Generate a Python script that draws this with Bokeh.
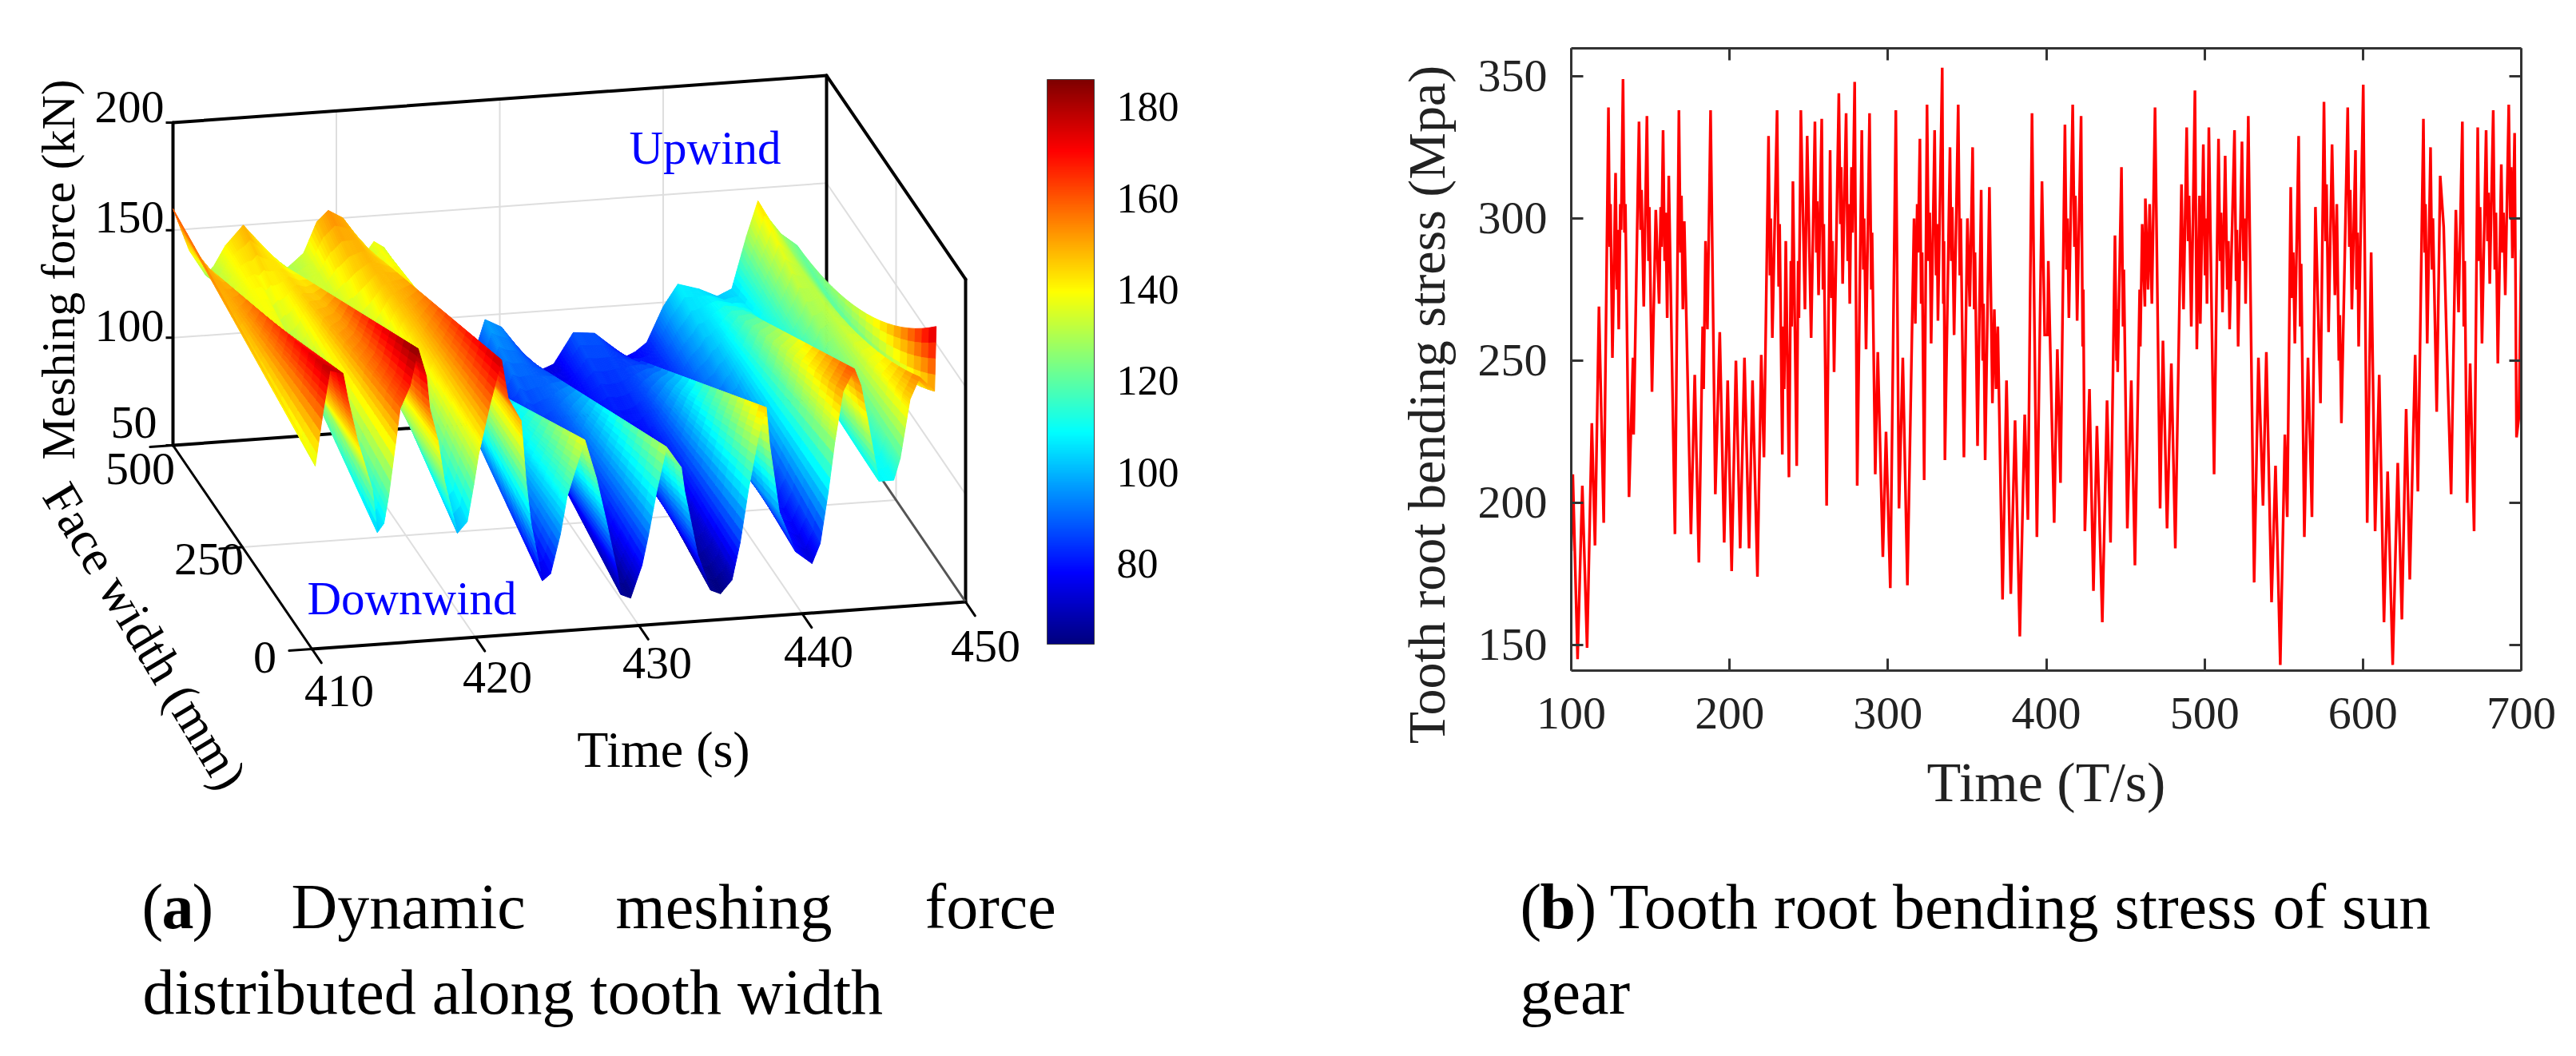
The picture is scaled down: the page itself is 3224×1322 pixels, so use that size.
import numpy as np
from bokeh.plotting import figure
from bokeh.layouts import row, column
from bokeh.core.properties import value
from bokeh.models import (Range1d, ColorBar, LinearColorMapper, FixedTicker, LinearAxis)
from bokeh.embed import file_html
from bokeh.resources import INLINE

SERIF = "Liberation Serif"

# ---------- (a) surface: force read along the front edge (width 0) and back edge (width 500)
front_time = [410,410.2,410.7,411.1,411.9,412.2,412.8,413.7,414,414.4,414.7,415.1,415.4,416,416.5,417,417.2,417.7,418.1,418.9,
              419.5,419.9,420.2,420.9,421.6,422,422.8,423.1,423.4,424.1,424.6,425.2,425.6,426.1,426.7,427.4,428,428.7,428.9,429.5,
              430.2,430.6,431.1,431.7,432.6,432.8,433.6,434.4,435,435.7,436.2,436.7,437.3,437.8,438,438.6,439.6,440.6,441.1,441.6,
              442,442.5,443.2,443.6,444,444.7,445.6,446,446.6,447.2,448.1,448.2]
front_force = [140,135,161,179,177,165,145,122,102,106,119,142,159,169,186,173,158,143,124,99,
               104,121,135,158,178,160,149,121,101,74,77,95,112,124,138,120,100,75,65,63,
               78,92,112,132,122,111,81,64,62,68,85,109,133,147,130,98,79,73,82,106,
               129,152,162,154,138,109,109,119,146,156,149,179]
back_time = [410,411,412,412.5,413.2,414.3,415.1,416.9,418,418.8,419.5,420.4,421.9,422.3,422.9,424.1,425.5,426.7,428.5,429.1,
             430.1,432.3,433.3,434.5,435.8,437.7,438.3,439,440,440.9,442.2,443.3,444.2,445.1,445.8,446.5,447.2,448.2]
back_force = [160,140,128,132,141,150,143,128,135,149,154,150,134,138,135,118,95,78,84,98,
              94,72,75,89,88,76,78,82,98,108,105,101,104,128,144,135,128,122]
# how far the force at mid width lies below the straight line between the two edges
mid_time = [410,444,446,447.2,448.2]
mid_dip = [0,0,4,10,13]

cbar_ticks = [80,100,120,140,160,180]
z_ticks = [50,100,150,200]
w_ticks = [0,250,500]
t_ticks = [410,420,430,440,450]

# ---------- (b) tooth root bending stress: main extremes
stress_time = [100,101,104,107,110,113,115,117.5,120.5,123.5,126,128,130,132.7,136.5,139,139.4,142.8,145.8,147.8,151,153.4,155.5,158,160.6,161.6,165.5,168,170.5,171.4,175.6,178,180.6,184.8,186,188,191,193.8,196.6,198.8,201.3,204,206.7,209.4,212.3,214.5,217.6,220,221.7,224.6,227,230,233.3,235.5,237.5,240,242.4,245,247.6,
249,251.5,253.9,256.2,258.2,261.3,263.5,266,269,271.4,273.6,275.9,279,280.6,283.5,286.2,288.4,292,293.6,296.8,298.8,301.5,305,307,309.4,312.3,316.5,317.3,320.2,322.9,324.7,327.3,329.5,331.6,334.3,336,339.2,341.8,344.4,348,350.2,351.7,353.5,356.6,358.9,361.4,364.1,366,367.2,368.3,369.4,372.4,374.9,377.6,380.3,383.3,386.4,388.4,391,394.1,397.3,399,
400.8,401.3,405,407,409,411.8,414.3,416.7,419.5,422,424.4,427.3,429.8,432,435.4,438.4,440.6,443.4,445.1,447.5,451.2,453.7,456,460.6,462.3,462.6,464.3,465.3,466.7,468.7,471.9,473.7,476.3,479,481.5,485.4,486.7,488.7,491.6,493.9,495.1,496.8,497.3,499.2,501.5,502.7,506,508.8,511.3,513,515.8,518.9,521.2,523.6,525.9,527.6,531.3,534,536.9,539,542.3,544.8,547.8,550.7,
552.2,554.4,557,559.4,563,565.3,567.8,570,573.2,575.4,578.3,580.5,582.3,583.5,586.4,590.4,593,595.3,597.3,600.2,602.7,605.2,607.7,610.3,613.3,615.6,618.8,622,624.6,627.3,629.6,633,634.7,638.2,640.6,642.7,646.6,648.8,651,653,655.7,658.7,660.4,662.8,665.8,667.7,670.2,672.5,675.2,677.8,680.1,682.3,685.2,687.4,689.9,692.1,694.4,695.8,697,698.5,700]
stress_val = [183,210,145,206,149,228,185,269,193,339,251,316,261,349,202,251,224,334,269,336,239,303,270,331,265,315,189,338,268,299,189,245,179,292,261,338,203,260,186,243,176,250,184,251,184,243,174,252,216,329,258,338,217,292,209,313,213,338,268,
329,258,334,273,335,199,324,246,344,277,337,270,348,206,331,254,337,210,253,181,225,170,338,198,251,171,300,263,328,208,340,256,331,264,353,215,325,259,340,216,300,269,325,220,310,215,311,235,268,240,262,166,243,168,229,153,231,194,337,188,313,259,
259,285,193,254,207,333,265,340,264,336,190,240,169,227,158,236,186,294,246,318,191,243,178,298,269,307,275,305,270,339,198,257,191,249,184,312,268,332,262,345,254,308,263,326,270,332,210,328,267,322,261,331,255,327,270,336,172,251,199,253,165,213,143,224,
195,311,256,329,188,251,195,304,235,341,260,326,273,305,228,339,268,324,255,347,193,288,190,245,158,211,143,214,159,233,173,252,204,335,256,325,232,315,297,254,203,303,267,334,200,249,190,332,256,331,277,338,249,319,273,340,286,330,223,230,289]
# small inner wiggles seen between the main extremes
wiggle_time = [124.3,124.8,128.8,129.2,131,131.5,133.6,134.2,143.8,144.4,148.8,149.3,156.5,157,159,159.6,169,169.6,183,183.6,225.5,226,231,231.6,234,234.5,238.7,239.2,243.3,243.8,254.8,255.3,259,259.5,264.4,265,270,270.5,274.6,275.2,277,277.6,284.5,285,289.5,290,318.5,319,321,321.6,325.7,326.4,330.4,331,335,335.4,340,340.6,345.4,346,354.5,355,359.9,360.4,412.8,413.4,417.8,418.4,423,423.4,444.4,444.8,448.5,449,459,459.4,489.6,490.2,500.3,500.9,509.8,510.4,514.3,515,519.9,520.4,524.6,525.2,555.4,556,560.4,561,576.4,577,584.8,585.4,591.4,592,596,596.6,639,639.5,643.6,644.2,663.7,664.3,673.4,674,678.7,679.3,683.3,684,688.2,688.8,693,693.6]
wiggle_val = [290,305,275,296,305,296,295,305,296,310,285,304,304,290,285,302,288,308,262,240,280,300,276,298,262,240,285,262,285,265,288,306,275,298,272,292,298,318,285,305,318,295,282,300,275,295,305,288,270,288,285,302,280,298,270,292,285,304,280,300,268,288,250,270,282,300,290,308,255,275,250,268,262,282,275,255,292,308,280,300,285,302,275,292,278,296,285,300,272,288,262,284,292,312,250,266,290,310,275,295,288,305,282,300,262,285,285,304,292,309,282,302,288,302,300,318]
x_ticks_b = [100,200,300,400,500,600,700]
y_ticks_b = [150,200,250,300,350]


def jet(u):
    u = np.clip(u, 0, 1)
    r = np.clip(1.5 - np.abs(4*u - 3), 0, 1)
    g = np.clip(1.5 - np.abs(4*u - 2), 0, 1)
    b = np.clip(1.5 - np.abs(4*u - 1), 0, 1)
    return "#%02x%02x%02x" % (int(r*255), int(g*255), int(b*255))

PALETTE = [jet(i/255) for i in range(256)]
ZMIN, ZMAX = 62.3, 186.0


def proj(t, w, z):
    t = np.asarray(t, float); w = np.asarray(w, float); z = np.asarray(z, float)
    x = 390 + (t-410)/40*818 - w/500*174
    y = 812 - (t-410)/40*59 - w/500*255 - (z-50)*2.693
    return x, y


def seg(p, a, b, color, lw):
    xa, ya = proj(*a); xb, yb = proj(*b)
    p.line([float(xa), float(xb)], [float(ya), float(yb)], line_color=color, line_width=lw, line_cap="round")


# ---------- figure (a)
pa = figure(width=1700, height=1306, x_range=Range1d(0, 1700), y_range=Range1d(1306, 0),
            toolbar_location=None, output_backend="svg", min_border=0,
            x_axis_location=None, y_axis_location=None, frame_align=False)
pa.grid.visible = False
pa.outline_line_color = None

GRID = "#dedede"
for t in t_ticks[1:-1]:
    seg(pa, (t,500,50), (t,500,200), GRID, 2)
    seg(pa, (t,0,50), (t,500,50), GRID, 2)
for z in z_ticks[1:-1]:
    seg(pa, (410,500,z), (450,500,z), GRID, 2)
    seg(pa, (450,0,z), (450,500,z), GRID, 2)
seg(pa, (410,250,50), (450,250,50), GRID, 2)
seg(pa, (450,250,50), (450,250,200), GRID, 2)

K = "#000000"
seg(pa, (410,500,50), (410,500,200), K, 4)
seg(pa, (410,500,200), (450,500,200), K, 4)
seg(pa, (450,500,50), (450,500,200), K, 4)
seg(pa, (450,500,200), (450,0,200), K, 4)
seg(pa, (450,0,50), (450,0,200), K, 4)
seg(pa, (410,500,50), (450,500,50), K, 4)
seg(pa, (410,0,50), (450,0,50), K, 4)
seg(pa, (410,0,50), (410,500,50), K, 3)
seg(pa, (450,0,50), (450,500,50), "#555555", 3)
for t in t_ticks:
    seg(pa, (t,0,50), (t,-34,50), K, 3)
for w in w_ticks:
    seg(pa, (410,w,50), (408.6,w,50), K, 3)
for z in z_ticks:
    xa, ya = proj(410,500,z)
    pa.line([float(xa)-9, float(xa)], [float(ya), float(ya)], line_color=K, line_width=3)

# surface mesh (shaded between the values read on the edges), far cells painted first
tg = np.unique(np.concatenate([np.array(front_time), np.array(back_time)]))
tfine = np.unique(np.concatenate([np.linspace(tg[i], tg[i+1], max(5, int(np.ceil((tg[i+1]-tg[i])/0.12))+1)) for i in range(len(tg)-1)]))
wfine = np.linspace(0, 500, 21)
zf = np.interp(tfine, front_time, front_force)
zb = np.interp(tfine, back_time, back_force)
dip = np.interp(tfine, mid_time, mid_dip)
def zrow(wv):
    u = wv/500
    return zf + (zb-zf)*u - dip*4*u*(1-u)
xs, ys, cols = [], [], []
for j in range(len(wfine)-2, -1, -1):
    w0, w1 = wfine[j], wfine[j+1]
    z0, z1 = zrow(w0), zrow(w1)
    x0, y0 = proj(tfine, w0, z0)
    x1, y1 = proj(tfine, w1, z1)
    for i in range(len(tfine)-2, -1, -1):
        xs.append([x0[i], x0[i+1], x1[i+1], x1[i]])
        ys.append([y0[i], y0[i+1], y1[i+1], y1[i]])
        zm = (z0[i]+z0[i+1]+z1[i]+z1[i+1])/4
        cols.append(PALETTE[int(np.clip((zm-ZMIN)/(ZMAX-ZMIN), 0, 1)*255)])
pa.patches(xs=xs, ys=ys, fill_color=cols, line_color=cols, line_width=1)

def T(p, x, y, s, size, color="#000000", align="center", angle=0, style="normal"):
    p.text(x=[x], y=[y], text=[s], text_font=value(SERIF), text_font_size=f"{size}px", text_color=color,
           text_align=align, text_baseline="middle", angle=angle, angle_units="deg", text_font_style=style)

for z, yy in zip(z_ticks, [528, 407, 271, 133]):
    T(pa, 205 if z > 50 else 196, yy, str(z), 58, align="right")
for w, (xx, yy) in zip(w_ticks, [(331,822), (261,699), (175,586)]):
    T(pa, xx, yy, str(w), 58)
for t, (xx, yy) in zip(t_ticks, [(424,864), (622,847), (822,829), (1024,815), (1233,808)]):
    T(pa, xx, yy, str(t), 58)
T(pa, 72, 337, "Meshing force (kN)", 60, angle=90)
T(pa, 181, 796, "Face width (mm)", 63, angle=-59)
T(pa, 830, 938, "Time (s)", 64)
T(pa, 882, 184, "Upwind", 59, color="#0000ff")
T(pa, 515, 748, "Downwind", 59, color="#0000ff")

mapper = LinearColorMapper(palette=PALETTE, low=ZMIN, high=ZMAX)
cb = ColorBar(color_mapper=mapper, location=(1310, 500), width=59, height=707, padding=0,
              ticker=FixedTicker(ticks=cbar_ticks), major_label_text_font=SERIF,
              major_label_text_font_size="52px", major_label_text_color="#000000", label_standoff=28,
              major_tick_line_color=None, minor_tick_line_color=None, bar_line_color="#444444", bar_line_width=1,
              background_fill_color=None, border_line_color=None)
pa.add_layout(cb)

CY1, CY2 = 1134, 1241
T(pa, 177, CY1, "(", 80, align="left")
T(pa, 202, CY1, "a", 80, align="left", style="bold")
T(pa, 240, CY1, ")", 80, align="left")
T(pa, 364, CY1, "Dynamic", 80, align="left")
T(pa, 770, CY1, "meshing", 80, align="left")
T(pa, 1157, CY1, "force", 80, align="left")
T(pa, 178, CY2, "distributed along tooth width", 80, align="left")

# ---------- y title of (b): it sits lower than the frame's centre, so it has its own strip
TITLE_X0, TITLE_X1 = 1700, 1840
pt = figure(width=TITLE_X1-TITLE_X0, height=1050, x_range=Range1d(TITLE_X0, TITLE_X1), y_range=Range1d(1050, 0),
            toolbar_location=None, output_backend="svg", min_border=0,
            x_axis_location=None, y_axis_location=None, frame_align=False)
pt.grid.visible = False
pt.outline_line_color = None
T(pt, 1785, 506, "Tooth root bending stress (Mpa)", 66, color="#222222", angle=90)

# ---------- figure (b)
X0, X1, Y0, Y1 = 1966, 3155, 60, 839
XL, XH, YL, YH = 100.0, 700.0, 141.0, 359.8
WB = 3208 - TITLE_X1
pb = figure(width=WB, height=1050, x_range=Range1d(XL, XH), y_range=Range1d(YL, YH),
            toolbar_location=None, output_backend="svg", frame_align=False,
            min_border_left=X0-TITLE_X1, min_border_right=3208-X1, min_border_top=Y0, min_border_bottom=1050-Y1,
            x_axis_label="Time (T/s)")
pb.grid.visible = False
pb.outline_line_color = None
AX = "#333333"

def style(ax, ticks, labels=True):
    ax.ticker = FixedTicker(ticks=ticks)
    ax.axis_line_color = AX; ax.axis_line_width = 3
    ax.major_tick_line_color = AX; ax.major_tick_line_width = 3
    ax.major_tick_in = 15; ax.major_tick_out = 0
    ax.minor_tick_line_color = None
    ax.major_label_text_font = SERIF
    ax.major_label_text_font_size = "58px"
    if not labels:
        ax.major_label_overrides = {t: "" for t in ticks}
    ax.major_label_text_color = "#222222"
    ax.axis_label_text_font = SERIF
    ax.axis_label_text_font_style = "normal"
    ax.axis_label_text_font_size = "70px"
    ax.axis_label_text_color = "#222222"

xa, ya = pb.xaxis[0], pb.yaxis[0]
style(xa, x_ticks_b); style(ya, y_ticks_b)
xa.major_label_standoff = 34; xa.axis_label_standoff = 26
ya.major_label_standoff = 30
top = LinearAxis(); style(top, x_ticks_b, False)
right = LinearAxis(); style(right, y_ticks_b, False)
pb.add_layout(top, "above"); pb.add_layout(right, "right")

order = np.argsort(np.array(stress_time + wiggle_time), kind="stable")
line_t = np.array(stress_time + wiggle_time)[order]
line_v = np.array(stress_val + wiggle_val)[order]
pb.line(line_t, line_v, line_color="#ff0000", line_width=3.4, line_join="miter")

# caption (b) in its own strip below
pc = figure(width=WB+TITLE_X1-TITLE_X0, height=256, x_range=Range1d(TITLE_X0, 3208), y_range=Range1d(1306, 1050),
            toolbar_location=None, output_backend="svg", min_border=0,
            x_axis_location=None, y_axis_location=None, frame_align=False)
pc.grid.visible = False
pc.outline_line_color = None
T(pc, 1902, CY1, "(", 80, align="left")
T(pc, 1927, CY1, "b", 80, align="left", style="bold")
T(pc, 1971, CY1, ")", 80, align="left")
T(pc, 2014, CY1, "Tooth root bending stress of sun", 80, align="left")
T(pc, 1902, CY2, "gear", 80, align="left")

open("out.html", "w").write(file_html(row(pa, column(row(pt, pb), pc)), INLINE))
